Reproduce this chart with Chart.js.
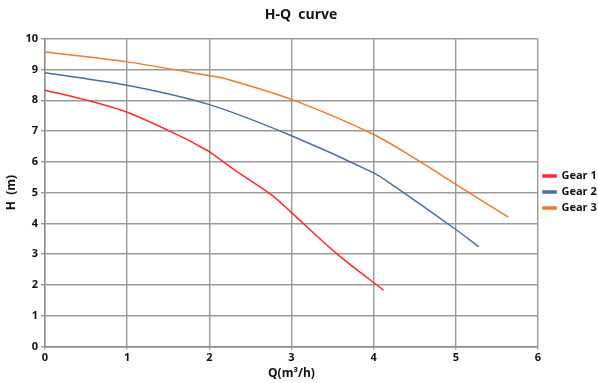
<!DOCTYPE html>
<html><head><meta charset="utf-8">
<script src="https://cdn.jsdelivr.net/npm/chart.js@4"></script>
<style>html,body{margin:0;padding:0;background:#fff}#c{display:block}</style>
</head><body>
<canvas id="c" width="598" height="383"></canvas>
<script>
const title = "H-Q  curve";
const xTitle = "Q(m³/h)";
const yTitle = "H  (m)";
const seriesNames = ["Gear 1", "Gear 2", "Gear 3"];
const q1 = [0, 0.47, 1, 1.69, 1.89, 2, 2.30, 2.75, 3, 3.56, 4.12];
const h1 = [8.33, 8.03, 7.61, 6.78, 6.49, 6.33, 5.75, 4.94, 4.35, 2.99, 1.83];
const q2 = [0, 1, 2, 3, 4, 4.25, 5, 5.28];
const h2 = [8.90, 8.49, 7.86, 6.85, 5.64, 5.21, 3.80, 3.24];
const q3 = [0, 1, 2, 2.2, 3, 4, 4.57, 5, 5.64];
const h3 = [9.57, 9.25, 8.80, 8.70, 8.03, 6.89, 6.00, 5.27, 4.20];
const colors = ["#ff2b2b", "#4c6e9e", "#f07a2e"];

const pts = (q, h) => q.map((x, i) => ({x: x, y: h[i]}));
const font = {family: "'Open Sans', sans-serif", weight: "bold"};

new Chart(document.getElementById("c"), {
  type: "line",
  data: {
    datasets: [pts(q1,h1), pts(q2,h2), pts(q3,h3)].map((d, i) => ({
      label: seriesNames[i], data: d, borderColor: colors[i], backgroundColor: colors[i],
      borderWidth: 1.5, pointRadius: 0, tension: 0.3, fill: false
    }))
  },
  options: {
    responsive: false, animation: false,
    layout: {padding: {left: 4, right: 0, top: 3, bottom: 2}},
    plugins: {
      title: {display: true, text: title, color: "#111", font: {...font, size: 14}, padding: {top: 4, bottom: 15}},
      legend: {position: "right", align: "center",
        labels: {color: "#111", font: {...font, size: 11}, boxWidth: 13, boxHeight: 2, padding: 5}},
      tooltip: {enabled: false}
    },
    scales: {
      x: {type: "linear", min: 0, max: 6,
        ticks: {stepSize: 1, color: "#111", font: {...font, size: 11}, padding: 2},
        grid: {color: "#9a9a9a", lineWidth: 1.4, tickLength: 3},
        border: {color: "#8a8a8a", width: 1.4},
        title: {display: true, text: xTitle, color: "#111", font: {...font, size: 12}, padding: {top: 0, bottom: 0}}
      },
      y: {min: 0, max: 10,
        ticks: {stepSize: 1, color: "#111", font: {...font, size: 11}, padding: 3},
        grid: {color: "#9a9a9a", lineWidth: 1.4, tickLength: 4},
        border: {color: "#8a8a8a", width: 1.4},
        title: {display: true, text: yTitle, color: "#111", font: {...font, size: 12}, padding: {top: 0, bottom: 4}}
      }
    }
  },
  plugins: [{
    id: "legendWidth",
    afterInit(chart) {
      const lg = chart.legend;
      const origFit = lg.fit.bind(lg);
      lg.fit = function() { origFit(); this.width = Math.min(this.width, 60); };
    }
  }]
});
</script>
</body></html>
